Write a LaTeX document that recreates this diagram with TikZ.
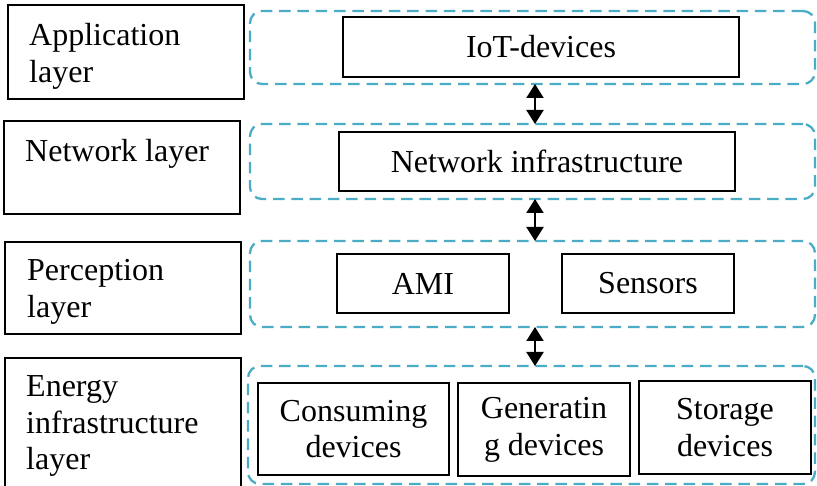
\documentclass[tikz,border=0pt]{standalone}
\usepackage{fontspec}
\setmainfont{Liberation Serif}
\usetikzlibrary{arrows.meta}
\definecolor{aqua}{HTML}{4BACC6}
\tikzset{
  bigfont/.style={font=\fontsize{32}{36.8}\selectfont},
  solidbox/.style={draw=black, line width=1.6pt, rectangle, inner sep=0pt, outer sep=0pt, bigfont, align=center},
  dashbox/.style={draw=aqua, line width=2.3pt, rectangle, rounded corners=12pt, dash pattern=on 11.5pt off 6.8pt, inner sep=0pt, outer sep=0pt},
  lefttext/.style={anchor=north west, inner sep=0pt, bigfont, align=left},
  biarrow/.style={line width=2pt, {Triangle[width=17pt,length=14pt]}-{Triangle[width=17pt,length=14pt]}}
}
\begin{document}
\begin{tikzpicture}[x=1pt,y=-1pt]
\clip (0,0) rectangle (817,486);
\fill[white] (0,0) rectangle (817,486);
% left layer boxes
\node[solidbox, minimum width=236pt, minimum height=94pt] (app) at (126,52) {};
\node[solidbox, minimum width=236pt, minimum height=93pt] (net) at (122,167.5) {};
\node[solidbox, minimum width=236pt, minimum height=92pt] (perc) at (123,288) {};
\node[solidbox, minimum width=236pt, minimum height=132pt] (energy) at (123,424) {};
\node[lefttext] (appT) at (29,23.2) {Application\\layer};
\node[lefttext] (netT) at (25,139.2) {Network layer};
\node[lefttext] (percT) at (27,259.2) {Perception\\layer};
\node[lefttext] (energyT) at (26,375.2) {Energy\\infrastructure\\layer};
% dashed groups
\node[dashbox, minimum width=565pt, minimum height=73pt] (r1) at (532.5,47.5) {};
\node[dashbox, minimum width=565pt, minimum height=75pt] (r2) at (532.5,161.5) {};
\node[dashbox, minimum width=565pt, minimum height=86pt] (r3) at (532.5,284) {};
\node[dashbox, minimum width=567pt, minimum height=118pt] (r4) at (531.5,425) {};
% inner boxes
\node[solidbox, minimum width=396pt, minimum height=60pt] (iot) at (541,47) {IoT-devices};
\node[solidbox, minimum width=396pt, minimum height=59pt] (netinf) at (537,161.5) {Network infrastructure};
\node[solidbox, minimum width=172pt, minimum height=59pt] (ami) at (423,283.5) {AMI};
\node[solidbox, minimum width=172pt, minimum height=59pt] (sens) at (648,283.5) {Sensors};
\node[solidbox, minimum width=191pt, minimum height=92pt] (cons) at (353.5,429) {Consuming\\devices};
\node[solidbox, minimum width=172pt, minimum height=93pt] (gen) at (544,429.5) {Generatin\\g devices};
\node[solidbox, minimum width=172pt, minimum height=93pt] (stor) at (725,427.5) {Storage\\devices};
% arrows
\coordinate (ax) at (535,0);
\draw[biarrow] (r1.south -| ax) -- (r2.north -| ax);
\draw[biarrow] (r2.south -| ax) -- (r3.north -| ax);
\draw[biarrow] (r3.south -| ax) -- (r4.north -| ax);
\end{tikzpicture}
\end{document}
